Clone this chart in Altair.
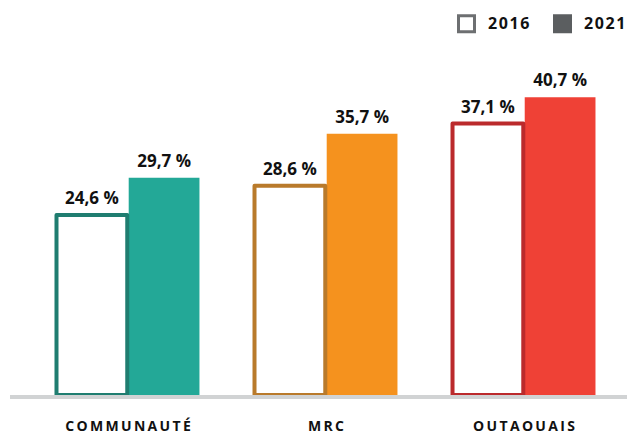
import altair as alt
import pandas as pd

# Share of population by area, 2016 vs 2021
regions = ["COMMUNAUTÉ", "MRC", "OUTAOUAIS"]
years = ["2016", "2021"]
share_2016 = [24.6, 28.6, 37.1]
share_2021 = [29.7, 35.7, 40.7]

# Palette: filled 2021 bars, outlined 2016 bars, and the year legend
fill_2021 = ["#23a897", "#f5921e", "#ef4136"]
edge_2016 = ["#1f7d70", "#b97a2b", "#bb2a2c"]
legend_fill = ["#ffffff", "#5b5e60"]
legend_edge = ["#6d6f71", "#5b5e60"]

rows = []
for r, a, b in zip(regions, share_2016, share_2021):
    rows.append({"region": r, "year": years[0], "share": a})
    rows.append({"region": r, "year": years[1], "share": b})
df = pd.DataFrame(rows)

PLOT_W, PLOT_H = 617, 395
FONT = "Open Sans"

x_enc = alt.X(
    "region:N",
    sort=regions,
    scale=alt.Scale(domain=regions, paddingInner=0.278, paddingOuter=0.197, align=0.596),
    axis=alt.Axis(
        title=None, domain=False, ticks=False, tickSize=0, labelAngle=0,
        labelPadding=35, labelBaseline="alphabetic",
        labelFont=FONT, labelFontWeight="bold", labelFontSize=14, labelColor="#111111",
        labelExpr="join(split(datum.label, ''), '\u2009')",
    ),
)
xo_enc = alt.XOffset("year:N", scale=alt.Scale(domain=years, paddingInner=0.02))
y_enc = alt.Y("share:Q", scale=alt.Scale(domain=[0, 54], nice=False), axis=None)

base = alt.Chart(df)

bars_2021 = base.transform_filter(alt.datum.year == years[1]).mark_bar(strokeWidth=0).encode(
    x=x_enc, xOffset=xo_enc, y=y_enc,
    fill=alt.Fill("region:N", scale=alt.Scale(domain=regions, range=fill_2021), legend=None),
)

bars_2016 = base.transform_filter(alt.datum.year == years[0]).mark_bar(
    fill="white", strokeWidth=4, strokeJoin="round"
).encode(
    x=x_enc, xOffset=xo_enc, y=y_enc,
    stroke=alt.Stroke("region:N", scale=alt.Scale(domain=regions, range=edge_2016), legend=None),
)

labels = base.transform_calculate(
    label="replace(format(datum.share, '.1f'), '.', ',') + ' %'"
).mark_text(
    dy=-11, baseline="alphabetic", font=FONT, fontWeight="bold", fontSize=17, color="#111111"
).encode(x=x_enc, xOffset=xo_enc, y=y_enc, text="label:N")

baseline = alt.Chart(pd.DataFrame({"k": [0]})).mark_rule(color="#d1d3d4", strokeWidth=4).encode(
    x=alt.value(0), x2=alt.value(PLOT_W), y=alt.value(397)
)

legend_cfg = alt.Legend(
    title=None, orient="none", legendX=447, legendY=14, direction="horizontal",
    symbolType="square", symbolSize=256, symbolStrokeWidth=3, symbolOpacity=1,
    labelFont=FONT, labelFontSize=16, labelFontWeight="bold", labelColor="#111111",
    labelOffset=12, columnPadding=18, padding=0,
    labelExpr="join(split(datum.label, ''), '\u200a')",
)
year_key = alt.Chart(pd.DataFrame({"year": years})).mark_square(opacity=0).encode(
    fill=alt.Fill("year:N", scale=alt.Scale(domain=years, range=legend_fill), legend=legend_cfg),
    stroke=alt.Stroke("year:N", scale=alt.Scale(domain=years, range=legend_edge), legend=legend_cfg),
)

chart = alt.layer(year_key, bars_2021, bars_2016, labels, baseline).resolve_scale(
    fill="independent", stroke="independent"
).properties(
    width=PLOT_W, height=PLOT_H,
    autosize=alt.AutoSizeParams(type="none"),
    padding={"left": 10, "right": 0, "top": 0, "bottom": 39},
    background="white",
).configure_view(stroke=None)

chart.save("out.html", embed_options={"renderer": "svg", "actions": False})
